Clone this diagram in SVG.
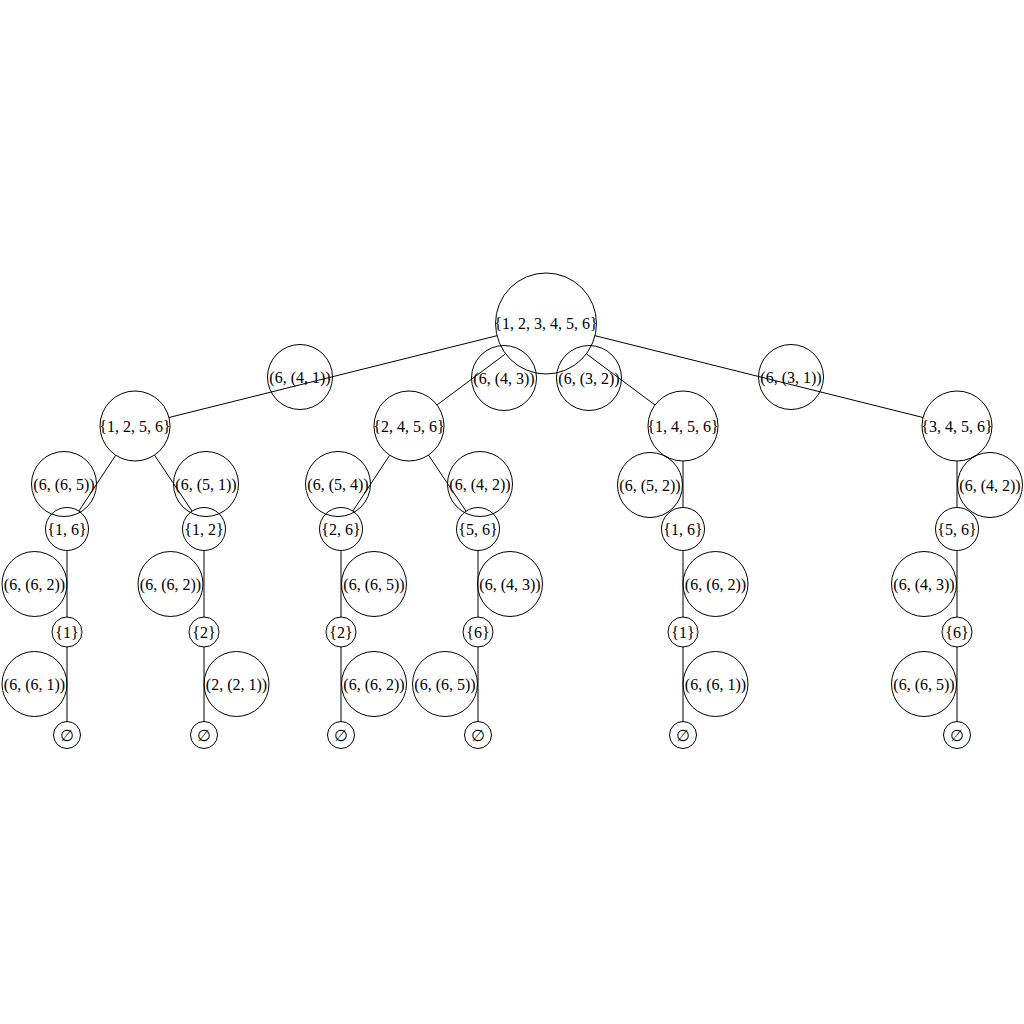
<svg xmlns="http://www.w3.org/2000/svg" width="1024" height="1024" viewBox="0 0 1024 1024">
<style>
  .n{fill:none;stroke:#000;stroke-width:1}
  .e{stroke:#000;stroke-width:1;fill:none}
  text{font-family:"Liberation Serif","DejaVu Serif",serif;font-size:16px;fill:#000;text-anchor:middle;dominant-baseline:central}
</style>
<rect width="1024" height="1024" fill="#fff"/>
<g id="connectors">
  <line class="e" x1="497" y1="335.7" x2="169" y2="417.5"/>
  <line class="e" x1="505.6" y1="353.8" x2="437" y2="405"/>
  <line class="e" x1="586.4" y1="353.8" x2="655" y2="405"/>
  <line class="e" x1="595" y1="335.7" x2="923" y2="417.5"/>
  <line class="e" x1="115.7" y1="455.2" x2="78.9" y2="511"/>
  <line class="e" x1="154.5" y1="455.1" x2="192" y2="511.1"/>
  <line class="e" x1="389.7" y1="455.2" x2="352.9" y2="511"/>
  <line class="e" x1="428.5" y1="455.1" x2="466" y2="511.1"/>
  <line class="e" x1="683" y1="461" x2="683" y2="507.5"/>
  <line class="e" x1="957" y1="461" x2="957" y2="507.5"/>
  <line class="e" x1="67" y1="550.5" x2="67" y2="617"/>
  <line class="e" x1="204" y1="550.5" x2="204" y2="617"/>
  <line class="e" x1="341" y1="550.5" x2="341" y2="617"/>
  <line class="e" x1="478" y1="550.5" x2="478" y2="617"/>
  <line class="e" x1="683" y1="550.5" x2="683" y2="617"/>
  <line class="e" x1="957" y1="550.5" x2="957" y2="617"/>
  <line class="e" x1="67" y1="647" x2="67" y2="721.5"/>
  <line class="e" x1="204" y1="647" x2="204" y2="721.5"/>
  <line class="e" x1="341" y1="647" x2="341" y2="721.5"/>
  <line class="e" x1="478" y1="647" x2="478" y2="721.5"/>
  <line class="e" x1="683" y1="647" x2="683" y2="721.5"/>
  <line class="e" x1="957" y1="647" x2="957" y2="721.5"/>
</g>
<g id="root"><circle class="n" cx="546" cy="323.5" r="50.5"/><text x="546" y="323.5">{1, 2, 3, 4, 5, 6}</text></g>
<g id="s1256"><circle class="n" cx="135" cy="426" r="35"/><text x="135" y="426">{1, 2, 5, 6}</text></g>
<g id="s2456"><circle class="n" cx="409" cy="426" r="35"/><text x="409" y="426">{2, 4, 5, 6}</text></g>
<g id="s1456"><circle class="n" cx="683" cy="426" r="35"/><text x="683" y="426">{1, 4, 5, 6}</text></g>
<g id="s3456"><circle class="n" cx="957" cy="426" r="35"/><text x="957" y="426">{3, 4, 5, 6}</text></g>
<g id="s16a"><circle class="n" cx="67" cy="529" r="21.5"/><text x="67" y="529">{1, 6}</text></g>
<g id="s12"><circle class="n" cx="204" cy="529" r="21.5"/><text x="204" y="529">{1, 2}</text></g>
<g id="s26"><circle class="n" cx="341" cy="529" r="21.5"/><text x="341" y="529">{2, 6}</text></g>
<g id="s56a"><circle class="n" cx="478" cy="529" r="21.5"/><text x="478" y="529">{5, 6}</text></g>
<g id="s16b"><circle class="n" cx="683" cy="529" r="21.5"/><text x="683" y="529">{1, 6}</text></g>
<g id="s56b"><circle class="n" cx="957" cy="529" r="21.5"/><text x="957" y="529">{5, 6}</text></g>
<g id="s1a"><circle class="n" cx="67" cy="632" r="15"/><text x="67" y="632">{1}</text></g>
<g id="s2a"><circle class="n" cx="204" cy="632" r="15"/><text x="204" y="632">{2}</text></g>
<g id="s2b"><circle class="n" cx="341" cy="632" r="15"/><text x="341" y="632">{2}</text></g>
<g id="s6a"><circle class="n" cx="478" cy="632" r="15"/><text x="478" y="632">{6}</text></g>
<g id="s1b"><circle class="n" cx="683" cy="632" r="15"/><text x="683" y="632">{1}</text></g>
<g id="s6b"><circle class="n" cx="957" cy="632" r="15"/><text x="957" y="632">{6}</text></g>
<g id="e1"><circle class="n" cx="67" cy="735" r="13.5"/><text x="67" y="735">∅</text></g>
<g id="e2"><circle class="n" cx="204" cy="735" r="13.5"/><text x="204" y="735">∅</text></g>
<g id="e3"><circle class="n" cx="341" cy="735" r="13.5"/><text x="341" y="735">∅</text></g>
<g id="e4"><circle class="n" cx="478" cy="735" r="13.5"/><text x="478" y="735">∅</text></g>
<g id="e5"><circle class="n" cx="683" cy="735" r="13.5"/><text x="683" y="735">∅</text></g>
<g id="e6"><circle class="n" cx="957" cy="735" r="13.5"/><text x="957" y="735">∅</text></g>
<g id="labels">
  <g id="l1"><circle class="n" cx="300" cy="377" r="32.5"/><text x="300" y="377">(6, (4, 1))</text></g>
  <g id="l2"><circle class="n" cx="504" cy="378" r="32.5"/><text x="504" y="378">(6, (4, 3))</text></g>
  <g id="l3"><circle class="n" cx="589" cy="378" r="32.5"/><text x="589" y="378">(6, (3, 2))</text></g>
  <g id="l4"><circle class="n" cx="791" cy="377" r="32.5"/><text x="791" y="377">(6, (3, 1))</text></g>
  <g id="l5"><circle class="n" cx="64" cy="484" r="32.5"/><text x="64" y="484">(6, (6, 5))</text></g>
  <g id="l6"><circle class="n" cx="206" cy="484" r="32.5"/><text x="206" y="484">(6, (5, 1))</text></g>
  <g id="l7"><circle class="n" cx="338" cy="484" r="32.5"/><text x="338" y="484">(6, (5, 4))</text></g>
  <g id="l8"><circle class="n" cx="480" cy="484" r="32.5"/><text x="480" y="484">(6, (4, 2))</text></g>
  <g id="l9"><circle class="n" cx="650" cy="485" r="32.5"/><text x="650" y="485">(6, (5, 2))</text></g>
  <g id="l10"><circle class="n" cx="990" cy="485" r="32.5"/><text x="990" y="485">(6, (4, 2))</text></g>
  <g id="l11"><circle class="n" cx="34.5" cy="584" r="32.5"/><text x="34.5" y="584">(6, (6, 2))</text></g>
  <g id="l12"><circle class="n" cx="170.5" cy="584" r="32.5"/><text x="170.5" y="584">(6, (6, 2))</text></g>
  <g id="l13"><circle class="n" cx="374" cy="584" r="32.5"/><text x="374" y="584">(6, (6, 5))</text></g>
  <g id="l14"><circle class="n" cx="510" cy="584" r="32.5"/><text x="510" y="584">(6, (4, 3))</text></g>
  <g id="l15"><circle class="n" cx="715.5" cy="584" r="32.5"/><text x="715.5" y="584">(6, (6, 2))</text></g>
  <g id="l16"><circle class="n" cx="924" cy="584" r="32.5"/><text x="924" y="584">(6, (4, 3))</text></g>
  <g id="l17"><circle class="n" cx="34.5" cy="684" r="32.5"/><text x="34.5" y="684">(6, (6, 1))</text></g>
  <g id="l18"><circle class="n" cx="236.5" cy="684" r="32.5"/><text x="236.5" y="684">(2, (2, 1))</text></g>
  <g id="l19"><circle class="n" cx="374" cy="684" r="32.5"/><text x="374" y="684">(6, (6, 2))</text></g>
  <g id="l20"><circle class="n" cx="445" cy="684" r="32.5"/><text x="445" y="684">(6, (6, 5))</text></g>
  <g id="l21"><circle class="n" cx="715.5" cy="684" r="32.5"/><text x="715.5" y="684">(6, (6, 1))</text></g>
  <g id="l22"><circle class="n" cx="924" cy="684" r="32.5"/><text x="924" y="684">(6, (6, 5))</text></g>
</g>
</svg>
